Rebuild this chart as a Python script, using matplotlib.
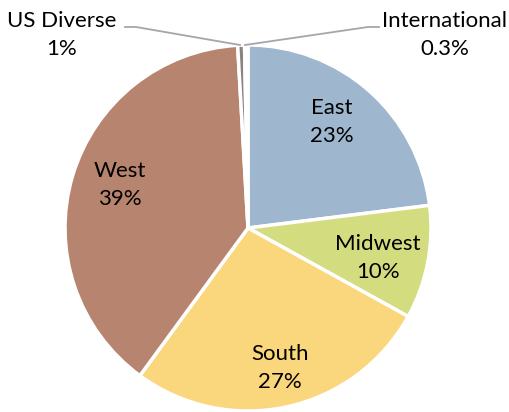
import matplotlib
matplotlib.use("Agg")
import matplotlib.pyplot as plt

categories = ["East", "Midwest", "South", "West", "US Diverse", "International"]
values = [23, 10, 27, 39, 0.6, 0.3]
pct_labels = ["23%", "10%", "27%", "39%", "1%", "0.3%"]
colors = ["#9EB6CE", "#D4DC80", "#FAD67C", "#B7846F", "#8A8480", "#D9D9D9"]

plt.rcParams['font.family'] = ['Lato', 'DejaVu Sans']

W, H = 509, 412
fig = plt.figure(figsize=(W/100, H/100), dpi=100)
cx, cy, r = 248, 228, 183
ax = fig.add_axes([(cx - r)/W, (H - cy - r)/H, 2*r/W, 2*r/H])

wedges, _ = ax.pie(values, colors=colors, startangle=90, counterclock=False,
                   radius=1, wedgeprops=dict(edgecolor='white', linewidth=2.5))
ax.set_xlim(-1, 1)
ax.set_ylim(-1, 1)
ax.set_aspect('equal')
ax.axis('off')

def to_data(px, py):
    return ((px - cx)/r, (cy - py)/r)

fs = 16
ls = 1.5
inside = {"East": (332, 122), "Midwest": (378, 258), "South": (280, 368), "West": (120, 185)}
for cat, pct in zip(categories, pct_labels):
    if cat in inside:
        x, y = to_data(*inside[cat])
        ax.text(x, y, f"{cat}\n{pct}", ha='center', va='center', fontsize=fs,
                linespacing=ls, clip_on=False)

# outside labels
x, y = to_data(62, 35)
ax.text(x, y, f"{categories[4]}\n{pct_labels[4]}", ha='center', va='center',
        fontsize=fs, linespacing=ls, clip_on=False)
x, y = to_data(445, 35)
ax.text(x, y, f"{categories[5]}\n{pct_labels[5]}", ha='center', va='center',
        fontsize=fs, linespacing=ls, clip_on=False)

# leader lines
p = [to_data(125, 27), to_data(136, 27), to_data(240, 45)]
ax.plot([q[0] for q in p], [q[1] for q in p], color='#A6A6A6', lw=1.3, clip_on=False)
p = [to_data(379, 27), to_data(368, 27), to_data(245, 45)]
ax.plot([q[0] for q in p], [q[1] for q in p], color='#A6A6A6', lw=1.3, clip_on=False)

fig.savefig("out.png", dpi=100, facecolor='white')
